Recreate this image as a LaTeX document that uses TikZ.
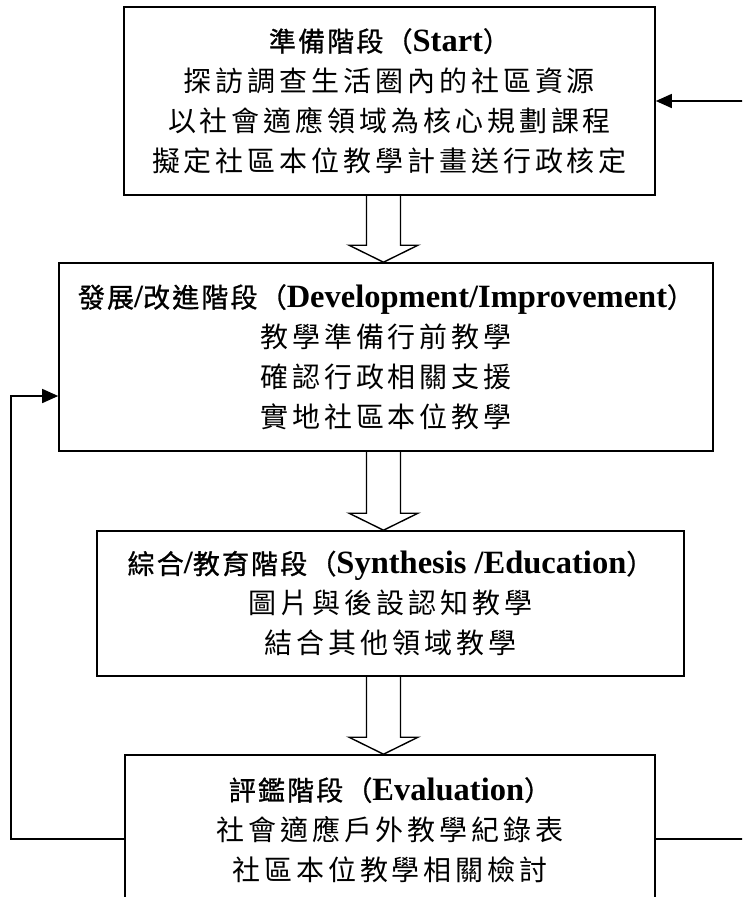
\documentclass[tikz,border=0pt]{standalone}
\usepackage{fontspec}
\setmainfont{Liberation Serif}
\newfontfamily\cjkt[LetterSpace=8,FakeBold=1]{Noto Sans CJK TC}
\newfontfamily\cjkb[LetterSpace=14]{Noto Sans CJK TC}
\usetikzlibrary{arrows.meta,calc}
\tikzset{
  box/.style={draw, line width=1.6pt, rectangle, align=center, inner sep=0pt,
    font=\fontsize{28}{40}\selectfont},
  barrow/.style={draw, line width=1.4pt, line join=miter},
  fb/.style={draw, line width=1.5pt, -{Triangle[length=16pt,width=14pt]}},
}
\newcommand{\tc}[1]{{\fontsize{27}{40}\selectfont\cjkt #1}}
\newcommand{\te}[1]{{\fontsize{32.5}{40}\selectfont\bfseries #1}}
\newcommand{\bl}[1]{{\cjkb #1}}
\newcommand{\blockarrow}[2]{%
  \draw[barrow] ($(ax|-#1.south)+(-17,0)$) -- ($(ax|-#2.north)+(-17,-17)$)
    -- ($(ax|-#2.north)+(-34.5,-17)$) -- (ax|-#2.north)
    -- ($(ax|-#2.north)+(34.5,-17)$) -- ($(ax|-#2.north)+(17,-17)$)
    -- ($(ax|-#1.south)+(17,0)$);}
\begin{document}
\begin{tikzpicture}[x=1pt,y=-1pt]
\useasboundingbox (0,0) rectangle (742,897);
\clip (0,0) rectangle (742,897);
\node[box, minimum width=531, minimum height=188] (b1) at (389.5,101)
  {\tc{準備階段（}\te{Start}\tc{）}\\
   \bl{探訪調查生活圈內的社區資源}\\
   \bl{以社會適應領域為核心規劃課程}\\
   \bl{擬定社區本位教學計畫送行政核定}};
\node[box, minimum width=654, minimum height=188] (b2) at (386,357)
  {\tc{發展}\te{/}\tc{改進階段（}\te{Development/Improvement}\tc{）}\\
   \bl{教學準備行前教學}\\
   \bl{確認行政相關支援}\\
   \bl{實地社區本位教學}};
\node[box, minimum width=587, minimum height=145] (b3) at (390.5,603.5)
  {\tc{綜合}\te{/}\tc{教育階段（}\te{Synthesis /Education}\tc{）}\\
   \bl{圖片與後設認知教學}\\
   \bl{結合其他領域教學}};
\node[box, minimum width=530, minimum height=150] (b4) at (390,830)
  {\tc{評鑑階段（}\te{Evaluation}\tc{）}\\
   \bl{社會適應戶外教學紀錄表}\\
   \bl{社區本位教學相關檢討}};
\coordinate (ax) at (383.5,0);
\blockarrow{b1}{b2}
\blockarrow{b2}{b3}
\blockarrow{b3}{b4}
\coordinate (L1) at (11,839);
\coordinate (L2) at (11,396);
\draw[fb] (b4.west |- L1) -- (L1) -- (L2) -- (b2.west |- L2);
\coordinate (R1) at (770,839);
\coordinate (R2) at (770,101);
\draw[fb] (b4.east |- R1) -- (R1) -- (R2) -- (b1.east |- R2);
\end{tikzpicture}
\end{document}
